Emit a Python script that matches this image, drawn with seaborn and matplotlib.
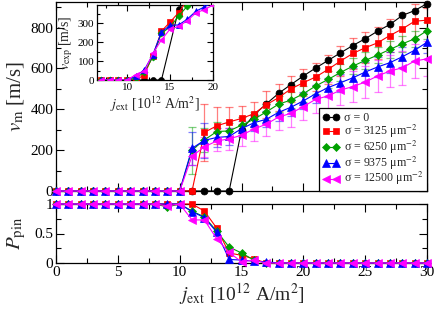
import numpy as np
import matplotlib
matplotlib.use('Agg')
import matplotlib.pyplot as plt
import seaborn as sns
from matplotlib.ticker import MultipleLocator, FuncFormatter

# ---------------- data ----------------
j_main = list(range(0, 31))
v_black = [0]*15 + [298, 372, 426, 478, 521, 563, 602, 639, 676, 712, 745, 782, 815, 859, 883, 917]
v_red = [0]*12 + [287, 319, 338, 355, 378, 422, 457, 500, 530, 558, 595, 636, 673, 701, 725, 761, 793, 831, 836]
v_green = [0]*11 + [200, 250, 291, 294, 322, 351, 387, 425, 445, 476, 514, 546, 580, 611, 639, 665, 693, 720, 745, 785]
v_blue = [0]*11 + [209, 248, 262, 267, 305, 334, 351, 385, 410, 441, 476, 506, 530, 554, 582, 607, 628, 657, 689, 728]
v_mag = [0]*11 + [171, 216, 245, 255, 273, 303, 327, 362, 380, 413, 449, 465, 494, 511, 533, 563, 587, 603, 636, 647]

# error bars (from j = 11 or 12 on)
j_err_red = list(range(12, 31))
err_red = [140, 90, 75, 60, 60, 65, 65, 65, 65, 70, 70, 75, 75, 75, 80, 80, 80, 85, 60]
j_err = list(range(11, 31))
err_green = [115, 60, 45, 40, 38, 38, 38, 38, 38, 38, 40, 40, 40, 40, 40, 40, 40, 40, 40, 40]
err_blue = [80, 85, 45, 40, 40, 40, 40, 42, 42, 42, 45, 45, 45, 48, 48, 50, 50, 50, 52, 52]
err_mag = [45, 50, 50, 55, 55, 60, 60, 62, 65, 65, 68, 70, 72, 75, 78, 80, 80, 82, 85, 85]

# pinning probability
p_red = [1]*12 + [0.88, 0.59, 0.17, 0.13, 0.07] + [0]*14
p_green = [1]*9 + [0.95, 1, 0.88, 0.78, 0.54, 0.27, 0.17, 0.05] + [0]*14
p_blue = [1]*11 + [0.87, 0.77, 0.52, 0.06, 0.05, 0.03, 0.02] + [0]*13
p_mag = [1]*9 + [0.97, 1, 0.73, 0.73, 0.41, 0.18, 0.02, 0.05] + [0]*14

# inset v_exp
ji_black = [7, 8, 9, 10, 11, 12, 13, 14, 16, 17]
vi_black = [0, 0, 0, 0, 0, 0, 0, 0, 372, 430]
ji = list(range(7, 21))
ji_red = list(range(7, 18))
vi_red = [0, 0, 0, 0, 0, 27, 128, 257, 305, 355, 420]
ji_green = list(range(7, 19))
vi_green = [0, 0, 0, 0, 10, 40, 122, 245, 280, 336, 389, 430]
vi_blue = [0, 0, 0, 0, 20, 53, 133, 252, 288, 290, 320, 362, 385, 410]
vi_mag = [0, 0, 0, 0, 28, 45, 140, 211, 268, 282, 312, 353, 371, 394]

labels = ['σ = 0', 'σ = 3125 μm$^{-2}$', 'σ = 6250 μm$^{-2}$',
          'σ = 9375 μm$^{-2}$', 'σ = 12500 μm$^{-2}$']
colors = ['#000000', '#ff0000', '#00a000', '#0000ff', '#ff00ff']
markers = ['o', 's', 'D', '^', '<']
msizes = [5, 5, 4.2, 5.5, 5.5]

# ---------------- style ----------------
sns.set_style('ticks')
plt.rcParams['font.family'] = ['Liberation Serif', 'DejaVu Serif']
plt.rcParams['mathtext.fontset'] = 'stix'
plt.rcParams['axes.edgecolor'] = 'black'
plt.rcParams['xtick.color'] = 'black'
plt.rcParams['ytick.color'] = 'black'

W, H = 436, 312
fig = plt.figure(figsize=(W/100, H/100), dpi=100)
ax = fig.add_axes([56/W, 1-191/H, 371/W, 189/H])
axp = fig.add_axes([56/W, 1-263/H, 371/W, 59/H])
axi = fig.add_axes([97/W, 1-80/H, 116/W, 75/H])


def style_axes(a, fs, major, minor):
    a.tick_params(which='both', direction='in', top=True, right=True,
                  width=0.8, labelsize=fs, pad=2, colors='black')
    a.tick_params(which='major', length=major)
    a.tick_params(which='minor', length=minor)
    for s in a.spines.values():
        s.set_linewidth(0.9)
        s.set_color('black')


def series(a, x, y, k, ms_scale=1.0, lab=None):
    sns.lineplot(x=x, y=y, ax=a, color=colors[k], marker=markers[k],
                 markersize=msizes[k]*ms_scale, markeredgecolor=colors[k],
                 markeredgewidth=0.5, linewidth=0.8, label=lab,
                 clip_on=False, zorder=3+k, legend=False)


# ---------------- main panel ----------------
main_vals = [v_black, v_red, v_green, v_blue, v_mag]
err_sets = [(j_err_red, v_red[12:], err_red, 1),
            (j_err, v_green[11:], err_green, 2),
            (j_err, v_blue[11:], err_blue, 3),
            (j_err, v_mag[11:], err_mag, 4)]
for xs, ys, es, k in err_sets:
    ax.errorbar(xs, ys, yerr=es, fmt='none', ecolor=colors[k], alpha=0.5,
                elinewidth=0.9, capsize=3, capthick=0.9, zorder=2)
for k, vals in enumerate(main_vals):
    series(ax, j_main, vals, k, lab=labels[k])

ax.set_xlim(0, 30)
ax.set_ylim(0, 925)
ax.xaxis.set_major_locator(MultipleLocator(5))
ax.xaxis.set_minor_locator(MultipleLocator(2.5))
ax.yaxis.set_major_locator(MultipleLocator(200))
ax.yaxis.set_minor_locator(MultipleLocator(100))
style_axes(ax, 11, 6, 3.5)
ax.tick_params(labelbottom=False)
ax.set_xlabel('')
ax.set_ylabel(r'$v_{\rm m}$ [m/s]', fontsize=15)
ax.yaxis.set_label_coords(-0.082, 0.5)

hs = ax.get_lines()[-5:]
leg = ax.legend(hs, labels, loc='lower right', borderaxespad=0, frameon=True,
                fancybox=False, edgecolor='black', framealpha=1, numpoints=2,
                handlelength=1.5, handleheight=0.5, fontsize=8.6,
                labelspacing=-0.12, borderpad=0.3, handletextpad=0.35)
leg.get_frame().set_linewidth(0.9)
leg.set_zorder(20)

# ---------------- P_pin panel ----------------
for k, vals in zip([1, 2, 3, 4], [p_red, p_green, p_blue, p_mag]):
    series(axp, j_main, vals, k)
axp.set_xlim(0, 30)
axp.set_ylim(0, 1)
axp.xaxis.set_major_locator(MultipleLocator(5))
axp.xaxis.set_minor_locator(MultipleLocator(2.5))
axp.yaxis.set_major_locator(MultipleLocator(0.5))
axp.yaxis.set_minor_locator(MultipleLocator(0.25))
axp.yaxis.set_major_formatter(FuncFormatter(lambda v, p: '%g' % v))
style_axes(axp, 11, 6, 3.5)
axp.set_ylabel(r'$P_{\rm pin}$', fontsize=15)
axp.yaxis.set_label_coords(-0.075, 0.5)
axp.set_xlabel(r'$j_{\rm ext}$ [10$^{12}$ A/m$^{2}$]', fontsize=14)
axp.xaxis.set_label_coords(0.5, -0.30)

# ---------------- inset ----------------
series(axi, ji_black, vi_black, 0, 0.85)
series(axi, ji_red, vi_red, 1, 0.85)
series(axi, ji_green, vi_green, 2, 0.85)
series(axi, ji, vi_blue, 3, 0.85)
series(axi, ji, vi_mag, 4, 0.85)
for ln in axi.get_lines():
    ln.set_clip_on(True)
axi.set_xlim(6.5, 20)
axi.set_ylim(0, 395)
axi.xaxis.set_major_locator(MultipleLocator(5))
axi.xaxis.set_minor_locator(MultipleLocator(2.5))
axi.yaxis.set_major_locator(MultipleLocator(100))
axi.yaxis.set_minor_locator(MultipleLocator(50))
style_axes(axi, 8, 4, 2)
axi.set_facecolor('white')
axi.set_ylabel(r'$v_{\rm exp}$ [m/s]', fontsize=10)
axi.yaxis.set_label_coords(-0.19, 0.5)
axi.set_xlabel(r'$j_{\rm ext}$ [10$^{12}$ A/m$^{2}$]', fontsize=10)
axi.xaxis.set_label_coords(0.5, -0.19)

fig.savefig('out.png', dpi=100)
